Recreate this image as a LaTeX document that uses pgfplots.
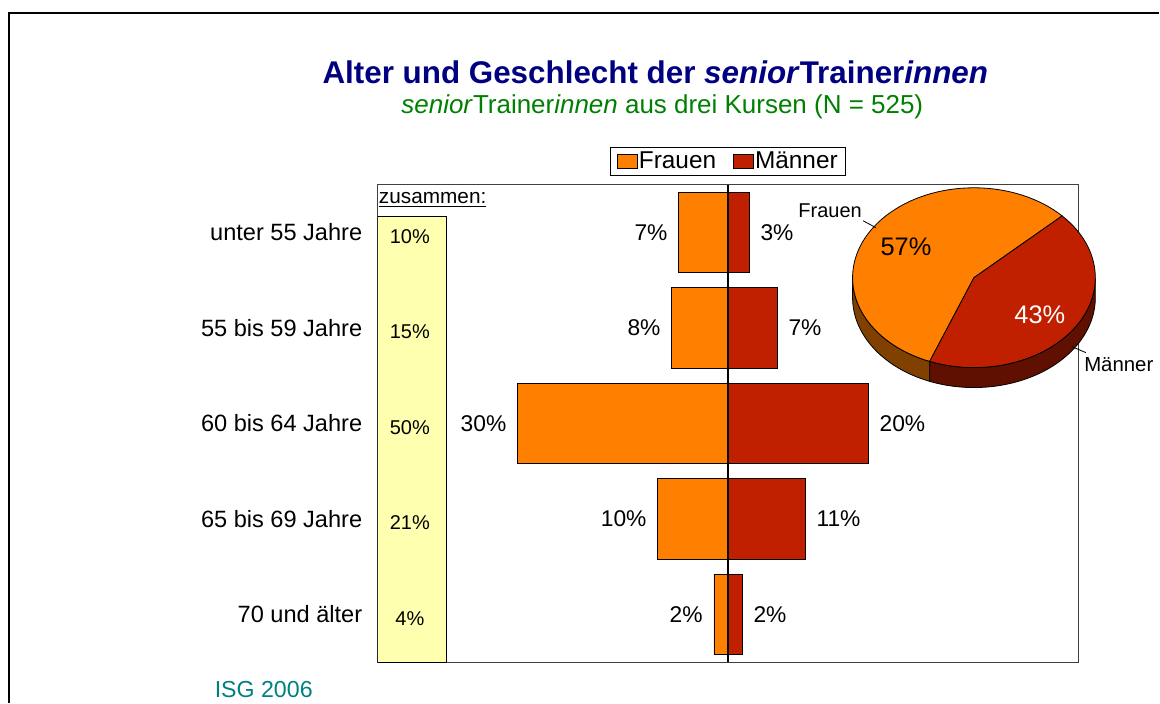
\documentclass[border=0pt]{standalone}
\usepackage{pgfplots}
\pgfplotsset{compat=1.18}
\usepackage{fontspec}
\setmainfont{Liberation Sans}
\definecolor{frauen}{RGB}{255,128,0}
\definecolor{maenner}{RGB}{192,32,0}
\definecolor{frauenside}{RGB}{128,64,0}
\definecolor{maennerside}{RGB}{96,16,0}
\definecolor{gelb}{RGB}{255,255,176}
\definecolor{titel}{RGB}{0,0,128}
\definecolor{unter}{RGB}{0,128,0}
\definecolor{isg}{RGB}{0,128,128}
\pgfplotsset{
  sqlegend/.style={legend image code/.code={\draw[##1, draw=black, line width=0.5pt] (0pt,-3.4pt) rectangle (9.8pt,3.4pt);}}
}
\begin{document}
\begin{tikzpicture}
\begin{scope}[x=0.5pt,y=0.5pt]
\path[use as bounding box] (0,0) rectangle (1160,704);
\draw[line width=1pt] (9,0) -- (9,691) -- (1160,691);
\node[anchor=base, inner sep=0pt, font=\bfseries\fontsize{15.7}{18}\selectfont, text=titel] at (656,620) {Alter und Geschlecht der \textit{senior}Trainer\textit{innen}};
\node[anchor=base, inner sep=0pt, font=\fontsize{13}{15}\selectfont, text=unter] at (663,590) {\textit{senior}Trainer\textit{innen} aus drei Kursen (N = 525)};
\node[inner sep=0pt, font=\fontsize{11.6}{14}\selectfont, text=isg] at (264,14) {ISG 2006};
\end{scope}
\begin{axis}[
  at={(189pt,20.5pt)}, anchor=south west,
  scale only axis, width=350.8pt, height=239pt,
  xmin=-50, xmax=50, ymin=-0.5, ymax=4.5, y dir=reverse,
  ytick={0,1,2,3,4},
  yticklabels={unter 55 Jahre, 55 bis 59 Jahre, 60 bis 64 Jahre, 65 bis 69 Jahre, 70 und älter},
  xtick=\empty, major tick length=0pt,
  axis line style={draw=black!75, line width=0.5pt},
  yticklabel style={font=\fontsize{11.8}{14}\selectfont, inner sep=0pt, xshift=-7.5pt},
  legend style={at={(0.5,1)}, anchor=south, yshift=4.5pt, legend columns=2,
    draw=black, line width=0.5pt, font=\fontsize{12.2}{14}\selectfont,
    inner xsep=3.5pt, inner ysep=1.5pt,
    nodes={inner sep=0.6pt},
    /tikz/every even column/.append style={column sep=8pt}},
]
\draw[fill=gelb, draw=black, line width=0.5pt] (axis cs:-50,-0.167) rectangle (axis cs:-40.1,4.5);
\addplot[xbar, bar shift=0pt, bar width=40.5pt, fill=frauen, draw=black, line width=0.5pt, sqlegend,
  nodes near coords, point meta=explicit symbolic,
  every node near coord/.append style={anchor=east, inner sep=5.5pt, text=black, font=\fontsize{11.4}{13}\selectfont}]
  coordinates {(-7,0) [7\%] (-8,1) [8\%] (-30,2) [30\%] (-10,3) [10\%] (-2,4) [2\%]};
\addlegendentry{Frauen}
\addplot[xbar, bar shift=0pt, bar width=40.5pt, fill=maenner, draw=black, line width=0.5pt, sqlegend,
  nodes near coords, point meta=explicit symbolic,
  every node near coord/.append style={anchor=west, inner sep=5.5pt, text=black, font=\fontsize{11.4}{13}\selectfont}]
  coordinates {(3,0) [3\%] (7,1) [7\%] (20,2) [20\%] (11,3) [11\%] (2,4) [2\%]};
\addlegendentry{Männer}
\addplot[forget plot, draw=none, mark=none,
  nodes near coords, point meta=explicit symbolic,
  every node near coord/.append style={anchor=center, inner sep=0pt, yshift=-2pt, text=black, font=\fontsize{10}{12}\selectfont}]
  coordinates {(-45.4,0) [10\%] (-45.4,1) [15\%] (-45.4,2) [50\%] (-45.4,3) [21\%] (-45.4,4) [4\%]};
\draw[black, line width=1pt] (axis cs:0,-0.5) -- (axis cs:0,4.5);
\end{axis}
\begin{scope}[x=0.5pt,y=0.5pt]
\node[anchor=west, inner sep=0pt, font=\fontsize{10.4}{12}\selectfont] at (379,504) {\underline{zusammen:}};
% pie: Frauen 57, Maenner 43
\def\pF{57}\def\pM{43}
\pgfmathsetmacro\aS{43.4}
\pgfmathsetmacro\aE{\aS-3.6*\pM}
\pgfmathsetmacro\aF{\aE+360}
\fill[frauenside, draw=black, line width=0.4pt] (975,426) ++(180:121.5 and 90) arc[start angle=180, end angle=\aF, x radius=121.5, y radius=90] -- ++(0,-20) arc[start angle=\aF, end angle=180, x radius=121.5, y radius=90] -- cycle;
\fill[maennerside, draw=black, line width=0.4pt] (975,426) ++(\aF:121.5 and 90) arc[start angle=\aF, end angle=360, x radius=121.5, y radius=90] -- ++(0,-20) arc[start angle=360, end angle=\aF, x radius=121.5, y radius=90] -- cycle;
\fill[frauen, draw=black, line width=0.4pt] (975,426) -- ++(\aS:121.5 and 90) arc[start angle=\aS, end angle=\aF, x radius=121.5, y radius=90] -- cycle;
\fill[maenner, draw=black, line width=0.4pt] (975,426) -- ++(\aS:121.5 and 90) arc[start angle=\aS, end angle=\aE, x radius=121.5, y radius=90] -- cycle;
\node[font=\fontsize{12.7}{15}\selectfont] at (907,457) {\pF\%};
\node[font=\fontsize{12.7}{15}\selectfont, text=white] at (1041,389) {\pM\%};
\node[font=\fontsize{10}{12}\selectfont] at (831,493) {Frauen};
\draw[line width=0.4pt] (864,483) -- (877,476);
\node[font=\fontsize{10.2}{12}\selectfont] at (1120,339) {Männer};
\draw[line width=0.4pt] (1073,357) -- (1087,351);
\end{scope}
\end{tikzpicture}
\end{document}
